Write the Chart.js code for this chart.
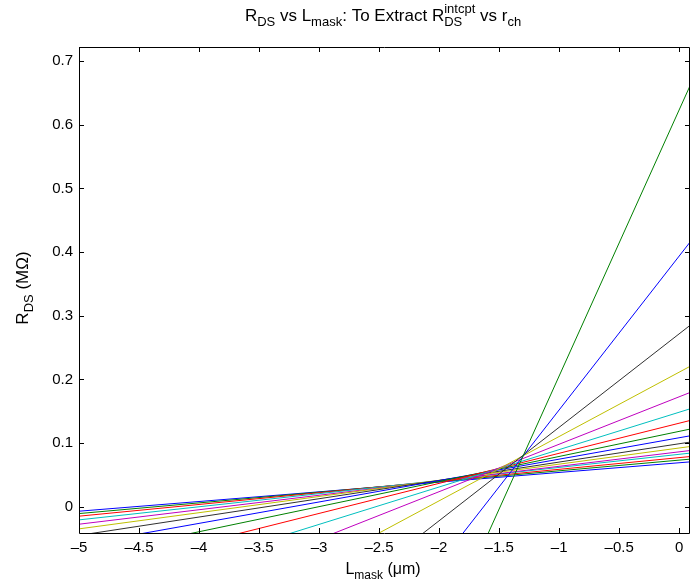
<!DOCTYPE html>
<html>
<head>
<meta charset="utf-8">
<script src="https://cdn.jsdelivr.net/npm/chart.js@4.4.0/dist/chart.umd.min.js"></script>
<style>
  html, body { margin: 0; padding: 0; background: #fff; }
  #wrap { width: 691px; height: 586px; }
</style>
</head>
<body>
<div id="wrap"><canvas id="rdsChart" width="691" height="586"></canvas></div>
<script>
// ==================== DATA ====================
// each line is drawn from L = -5 to L = 0.1 (um), R_DS in MOhm
const lineStartL = -5;
const lineEndL = 0.1;
const rdsAtStart = [-0.0068, -0.0105, -0.0146, -0.0204, -0.0272, -0.0345, -0.0447, -0.0595,
                    -0.0784, -0.1047, -0.1449, -0.1996, -0.2935, -0.462, -0.814, -1.466];
const rdsAtEnd   = [0.0708, 0.0751, 0.0792, 0.0846, 0.0887, 0.095, 0.102, 0.1119,
                    0.1225, 0.1361, 0.1545, 0.1803, 0.2216, 0.2864, 0.418, 0.6652];
const lineColors = ['#0000ff', '#008000', '#ff0000', '#00bfbf', '#bf00bf', '#bfbf00', '#303030'];
const xTicks = [-5, -4.5, -4, -3.5, -3, -2.5, -2, -1.5, -1, -0.5, 0];
const yTicks = [0, 0.1, 0.2, 0.3, 0.4, 0.5, 0.6, 0.7];

const FONT = '"Liberation Sans", Arial, Helvetica, sans-serif';

function fmt(v) {
    let s = String(Math.round(v * 10) / 10);
    return s.replace('-', '\u2013');
}

// ==================== RICH TEXT (sub / superscripts) ====================
// parts: [text, kind] kind: 'n' normal, 'sub', 'sup', or ['stack', sup, sub]
function richWidth(ctx, parts, size) {
    let w = 0;
    const small = Math.round(size * 0.75);
    parts.forEach(p => {
        if (p[1] === 'n') {
            ctx.font = size + 'px ' + FONT;
            w += ctx.measureText(p[0]).width;
        } else if (p[1] === 'stack') {
            ctx.font = small + 'px ' + FONT;
            w += Math.max(ctx.measureText(p[0]).width, ctx.measureText(p[2]).width);
        } else {
            ctx.font = small + 'px ' + FONT;
            w += ctx.measureText(p[0]).width;
        }
    });
    return w;
}

function drawRich(ctx, parts, cx, baseline, size) {
    let x = cx - richWidth(ctx, parts, size) / 2;
    const small = Math.round(size * 0.75);
    ctx.textAlign = 'left';
    ctx.textBaseline = 'alphabetic';
    parts.forEach(p => {
        if (p[1] === 'n') {
            ctx.font = size + 'px ' + FONT;
            ctx.fillText(p[0], x, baseline);
            x += ctx.measureText(p[0]).width;
        } else if (p[1] === 'sub') {
            ctx.font = small + 'px ' + FONT;
            ctx.fillText(p[0], x, baseline + size * 0.3);
            x += ctx.measureText(p[0]).width;
        } else if (p[1] === 'sup') {
            ctx.font = small + 'px ' + FONT;
            ctx.fillText(p[0], x, baseline - size * 0.45);
            x += ctx.measureText(p[0]).width;
        } else if (p[1] === 'stack') {
            ctx.font = small + 'px ' + FONT;
            ctx.fillText(p[0], x, baseline - size * 0.45);
            ctx.fillText(p[2], x, baseline + size * 0.3);
            x += Math.max(ctx.measureText(p[0]).width, ctx.measureText(p[2]).width);
        }
    });
}

// ==================== FRAME + LABELS PLUGIN ====================
const matlabFrame = {
    id: 'matlabFrame',
    afterDraw(chart) {
        const ctx = chart.ctx;
        const a = chart.chartArea;
        const xs = chart.scales.x, ys = chart.scales.y;
        const tl = 5;
        ctx.save();
        ctx.strokeStyle = '#000';
        ctx.lineWidth = 1;
        ctx.beginPath();
        ctx.rect(Math.round(a.left) + 0.5, Math.round(a.top) + 0.5,
                 Math.round(a.right - a.left) - 1, Math.round(a.bottom - a.top));
        xTicks.forEach(v => {
            const px = Math.round(xs.getPixelForValue(v)) + 0.5;
            ctx.moveTo(px, a.bottom); ctx.lineTo(px, a.bottom - tl);
            ctx.moveTo(px, a.top); ctx.lineTo(px, a.top + tl);
        });
        yTicks.forEach(v => {
            const py = Math.round(ys.getPixelForValue(v)) + 0.5;
            ctx.moveTo(a.left, py); ctx.lineTo(a.left + tl, py);
            ctx.moveTo(a.right, py); ctx.lineTo(a.right - tl, py);
        });
        ctx.stroke();

        ctx.fillStyle = '#000';
        ctx.font = '15px ' + FONT;
        ctx.textAlign = 'center';
        ctx.textBaseline = 'top';
        xTicks.forEach(v => ctx.fillText(fmt(v), xs.getPixelForValue(v), a.bottom + 7));
        ctx.textAlign = 'right';
        ctx.textBaseline = 'middle';
        yTicks.forEach(v => ctx.fillText(fmt(v), a.left - 6, ys.getPixelForValue(v)));

        drawRich(ctx, [['R', 'n'], ['DS', 'sub'], [' vs L', 'n'], ['mask', 'sub'],
                       [': To Extract R', 'n'], ['intcpt', 'stack', 'DS'], [' vs r', 'n'], ['ch', 'sub']],
                 383, 21, 17);
        drawRich(ctx, [['L', 'n'], ['mask', 'sub'], [' (\u03bcm)', 'n']], 383, 574, 16);

        ctx.translate(28, 288);
        ctx.rotate(-Math.PI / 2);
        drawRich(ctx, [['R', 'n'], ['DS', 'sub'], [' (M\u03a9)', 'n']], 0, 0, 17);
        ctx.restore();
    }
};

// ==================== CHART ====================
const datasets = rdsAtStart.map((v, i) => ({
    label: 'line ' + (i + 1),
    data: [{ x: lineStartL, y: v }, { x: lineEndL, y: rdsAtEnd[i] }],
    borderColor: lineColors[i % lineColors.length],
    borderWidth: 1,
    pointRadius: 0,
    fill: false,
    order: rdsAtStart.length - i
}));

new Chart(document.getElementById('rdsChart'), {
    type: 'line',
    data: { datasets: datasets },
    options: {
        responsive: false,
        animation: false,
        devicePixelRatio: 1,
        layout: { padding: { left: 0, right: 1, top: 47, bottom: 0 } },
        plugins: { legend: { display: false }, tooltip: { enabled: false }, title: { display: false } },
        scales: {
            x: {
                type: 'linear', min: -5, max: 0.09,
                grid: { display: false }, border: { display: false },
                ticks: { display: false },
                afterFit(scale) { scale.height = 53; }
            },
            y: {
                type: 'linear', min: -0.041, max: 0.722,
                grid: { display: false }, border: { display: false },
                ticks: { display: false },
                afterFit(scale) { scale.width = 79; }
            }
        }
    },
    plugins: [matlabFrame]
});
</script>
</body>
</html>
